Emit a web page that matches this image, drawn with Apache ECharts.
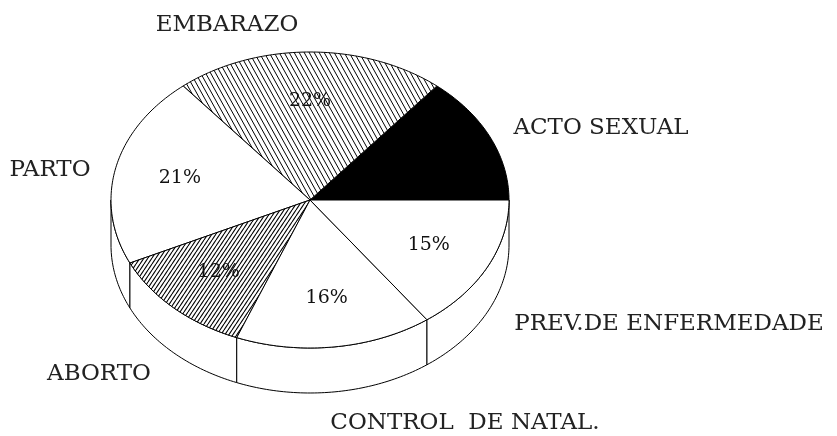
<!DOCTYPE html>
<html>
<head>
<meta charset="utf-8">
<script src="https://cdn.jsdelivr.net/npm/echarts@6/dist/echarts.min.js"></script>
<style>
  html, body { margin: 0; padding: 0; background: #fff; }
  #chart { width: 837px; height: 436px; }
</style>
</head>
<body>
<div id="chart"></div>
<script>
// Slice categories and their shares (%), counter-clockwise from 3 o'clock
const categories = ['ACTO SEXUAL', 'EMBARAZO', 'PARTO', 'ABORTO', 'CONTROL  DE NATAL.', 'PREV.DE ENFERMEDADE'];
const values = [14, 22, 21, 12, 16, 15];

// ---- layout (pixels) ----
const CX = 310, CY = 200;      // centre of the top face
const RX = 199, RY = 148;      // ellipse radii of the top face
const DEPTH = 45;              // thickness of the disc
const START = 0;               // first slice starts at 3 o'clock
const PCT_R = 0.67;            // relative radius of the % labels
const labelAnchors = {
  'ACTO SEXUAL': [601, 128],
  'EMBARAZO': [227, 25],
  'PARTO': [50, 170],
  'ABORTO': [99, 374],
  'CONTROL  DE NATAL.': [465, 423],
  'PREV.DE ENFERMEDADE': [669, 324]
};

// ---- fills ----
function hatch(w, h, dir, lw) {
  const c = document.createElement('canvas');
  c.width = w; c.height = h;
  const ctx = c.getContext('2d');
  ctx.fillStyle = '#fff';
  ctx.fillRect(0, 0, w, h);
  ctx.strokeStyle = '#000';
  ctx.lineWidth = lw;
  for (let k = -1; k <= 1; k++) {
    ctx.beginPath();
    if (dir === 'back') { ctx.moveTo(k * w, 0); ctx.lineTo(k * w + w, h); }
    else { ctx.moveTo(k * w + w, 0); ctx.lineTo(k * w, h); }
    ctx.stroke();
  }
  return { image: c, repeat: 'repeat' };
}
const fillOf = {
  'ACTO SEXUAL': '#000',
  'EMBARAZO': hatch(5, 9, 'back', 1),
  'PARTO': '#fff',
  'ABORTO': hatch(4, 6, 'fwd', 1.1),
  'CONTROL  DE NATAL.': '#fff',
  'PREV.DE ENFERMEDADE': '#fff'
};

const total = values.reduce((a, b) => a + b, 0);
const cumulative = [];
values.reduce((acc, v) => { cumulative.push(acc); return acc + v; }, 0);

function pt(deg, dy) {
  const r = deg * Math.PI / 180;
  return [CX + RX * Math.cos(r), CY - RY * Math.sin(r) + (dy || 0)];
}
function arc(a1, a2, dy) {
  const pts = [];
  const n = Math.max(2, Math.ceil(Math.abs(a2 - a1)));
  for (let k = 0; k <= n; k++) pts.push(pt(a1 + (a2 - a1) * k / n, dy));
  return pts;
}

function renderItem(params, api) {
  const i = params.dataIndex;
  const name = categories[i];
  const v = api.value(0);
  const a1 = START + cumulative[i] / total * 360;
  const a2 = a1 + v / total * 360;
  const children = [];
  const line = { stroke: '#000', lineWidth: 1, lineJoin: 'round' };

  // visible (front) side of the disc: angles 180..360
  const lo = Math.max(a1, 180), hi = Math.min(a2, 360);
  if (hi > lo) {
    const pts = arc(lo, hi, 0).concat(arc(hi, lo, DEPTH));
    children.push({ type: 'polygon', shape: { points: pts }, style: Object.assign({ fill: '#fff' }, line) });
  }

  // top face
  const top = [[CX, CY]].concat(arc(a1, a2, 0));
  children.push({ type: 'polygon', shape: { points: top }, style: Object.assign({ fill: fillOf[name] }, line) });

  // percentage inside the slice (not on the solid black slice)
  if (fillOf[name] !== '#000') {
    const mid = (a1 + a2) / 2 * Math.PI / 180;
    children.push({
      type: 'text',
      x: CX + RX * PCT_R * Math.cos(mid),
      y: CY - RY * PCT_R * Math.sin(mid),
      style: {
        text: v + '%', fill: '#111', font: '19px "DejaVu Serif"',
        align: 'center', verticalAlign: 'middle'
      }
    });
  }

  // category name outside
  const p = labelAnchors[name];
  children.push({
    type: 'text', x: p[0], y: p[1],
    style: {
      text: name, fill: '#222', font: '23px "DejaVu Serif"',
      align: 'center', verticalAlign: 'middle'
    }
  });

  return { type: 'group', children };
}

const chart = echarts.init(document.getElementById('chart'), null, { renderer: 'canvas' });
chart.setOption({
  backgroundColor: '#fff',
  animation: false,
  series: [{
    type: 'custom',
    coordinateSystem: 'none',
    silent: true,
    renderItem,
    data: values.map((v, i) => ({ name: categories[i], value: [v] }))
  }]
});
</script>
</body>
</html>
